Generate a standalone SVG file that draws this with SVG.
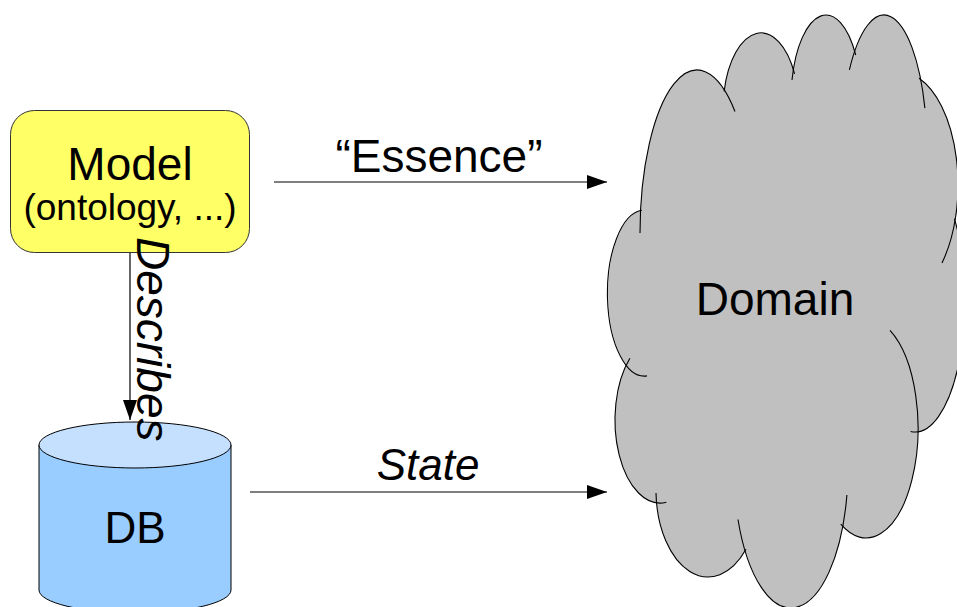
<svg xmlns="http://www.w3.org/2000/svg" width="957" height="607" viewBox="0 0 957 607">
  <style>
    .label { font-family: "Liberation Sans", Arial, sans-serif; fill: #000; }
    .conn { stroke: #000; stroke-width: 1.2; fill: none; }
    .lobe-fill { fill: #c0c0c0; stroke: none; }
    .lobe-edge { fill: none; stroke: #000; stroke-width: 1.1; }
  </style>
  <defs>
    <marker id="arrow" markerUnits="userSpaceOnUse" markerWidth="22" markerHeight="16" refX="20" refY="7" orient="auto">
      <path d="M0,0 L20,7 L0,14 Z" fill="#000"/>
    </marker>
  </defs>
  <rect width="957" height="607" fill="#fff"/>

  <!-- Domain cloud: union of elliptical lobes, then the outer arcs of each lobe -->
  <g id="domain">
    <g class="lobe-fill">
      <polygon points="694,200 761,110 826,100 884,150 900,185 915,300 866,428 791,468 708,490 660,420 645,293"/>
      <ellipse cx="697" cy="233" rx="57" ry="163"/>
      <ellipse cx="761" cy="110" rx="38" ry="77"/>
      <ellipse cx="826" cy="100" rx="35" ry="85"/>
      <ellipse cx="884" cy="150" rx="43" ry="135"/>
      <ellipse cx="900" cy="185" rx="58" ry="113"/>
      <ellipse cx="915" cy="300" rx="50" ry="132"/>
      <ellipse cx="866" cy="428" rx="52" ry="110"/>
      <ellipse cx="791" cy="468" rx="57" ry="140"/>
      <ellipse cx="708" cy="490" rx="52" ry="87"/>
      <ellipse cx="660" cy="420" rx="45" ry="83"/>
      <ellipse cx="645" cy="293" rx="37" ry="83"/>
    </g>
    <g class="lobe-edge">
      <path d="M640,233 A57,163 0 0 1 735,111.5"/>
      <path d="M724.1,91.4 A38,77 0 0 1 794.6,73.9"/>
      <path d="M792,80 A35,85 0 0 1 855.7,55"/>
      <path d="M849.4,69.9 A43,135 0 0 1 924.9,108.1"/>
      <path d="M919,78.2 A58,113 0 0 1 942,262.9"/>
      <path d="M954.4,218.7 A50,132 0 0 1 910.6,431.5"/>
      <path d="M890,330.4 A52,110 0 1 1 840.8,524.2"/>
      <path d="M846.9,495 A57,140 0 0 1 738,519.5"/>
      <path d="M746,549.3 A52,87 0 0 1 656,493"/>
      <path d="M666.3,502.2 A45,83 0 0 1 629.9,358.3"/>
      <path d="M647,375.9 A37,83 0 0 1 641.8,210.3"/>
    </g>
    <text class="label" x="775" y="315" font-size="46" text-anchor="middle">Domain</text>
  </g>

  <!-- Model node -->
  <g id="model">
    <rect x="10.5" y="110.5" width="239" height="142" rx="24" ry="24" fill="#ffff66" stroke="#333" stroke-width="1"/>
    <text class="label" x="130" y="180" font-size="46" text-anchor="middle">Model</text>
    <text class="label" x="130" y="220" font-size="37" text-anchor="middle">(ontology, ...)</text>
  </g>

  <!-- DB node: cylinder -->
  <g id="db">
    <path d="M39,445 L39,590 A96,23 0 0 0 231,590 L231,445 Z" fill="#99ccff" stroke="#000" stroke-width="1"/>
    <ellipse cx="135" cy="445" rx="96" ry="23" fill="#c5e0ff" stroke="#000" stroke-width="1"/>
    <text class="label" x="135" y="543" font-size="44" text-anchor="middle">DB</text>
  </g>

  <!-- Connectors -->
  <g id="connectors">
    <line class="conn" x1="274" y1="182" x2="607" y2="182" marker-end="url(#arrow)"/>
    <text class="label" x="439" y="172" font-size="46" text-anchor="middle">“Essence”</text>

    <line class="conn" x1="250" y1="492" x2="607" y2="492" marker-end="url(#arrow)"/>
    <text class="label" x="428" y="480" font-size="44" font-style="italic" text-anchor="middle">State</text>

    <line class="conn" x1="130" y1="253" x2="130" y2="420" marker-end="url(#arrow)"/>
    <text class="label" x="137" y="237" font-size="46" font-style="italic" transform="rotate(90 137 237)">Describes</text>
  </g>
</svg>
